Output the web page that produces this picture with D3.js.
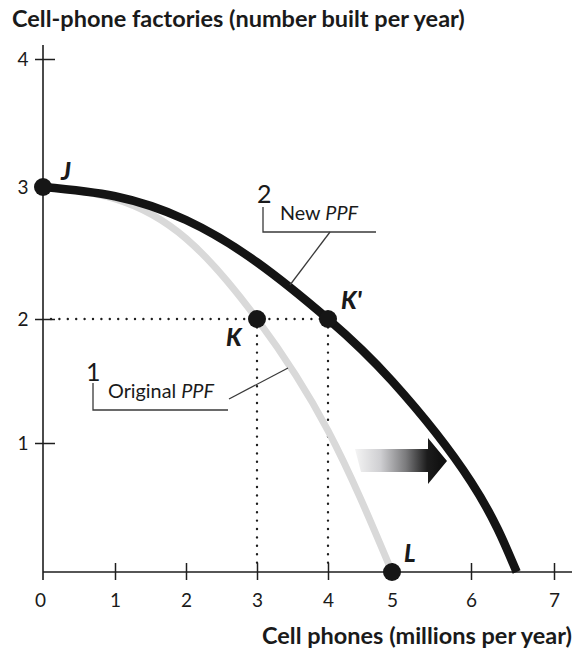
<!DOCTYPE html>
<html><head><meta charset="utf-8">
<script src="https://cdn.jsdelivr.net/npm/d3@7"></script>
<style>body{margin:0;background:#fff}svg{display:block}text{font-family:Lato,"Open Sans",sans-serif;fill:#1a1a1a}</style>
</head><body>
<svg id="c" width="574" height="651"></svg>
<script>
// ---- data ----
const xTicks = [0,1,2,3,4,5,6,7];
const yTicks = [1,2,3,4];
const originalPPF = [[0,3],[1,2.91],[2,2.61],[3,2],[4,1.1],[5,0]];
const newPPF = [[0,3],[1,2.93],[2,2.75],[3,2.43],[4,2],[5,1.5],[6,0.7],[6.55,0]];
const points = [
  {name:"J", x:0, y:3},
  {name:"K", x:3, y:2},
  {name:"K'", x:4, y:2},
  {name:"L", x:5, y:0}
];
const title = "Cell-phone factories (number built per year)";
const xTitle = "Cell phones (millions per year)";

// ---- scales (the printed axis is slightly uneven) ----
const x = d3.scaleLinear().domain([0,1,2,3,4,5,6,7]).range([43,115,186,257,328,392,471,554]);
const y = d3.scaleLinear().domain([0,1,2,3,4]).range([572,443,319,187,59]);

const svg = d3.select("#c");
const ink = "#1e1e1e";

function fit(sel, w){
  let fs = parseFloat(sel.attr("font-size"));
  const len = sel.node().getComputedTextLength();
  sel.attr("font-size", (fs*w/len).toFixed(2));
}

// title
const t = svg.append("text").attr("x",12).attr("y",27).attr("font-size",18).attr("font-weight",700).text(title);
fit(t, 453);
const xt = svg.append("text").attr("x",572).attr("y",644).attr("text-anchor","end").attr("font-size",18).attr("font-weight",700).text(xTitle);
fit(xt, 310);

// arrow with gradient
const defs = svg.append("defs");
const g = defs.append("linearGradient").attr("id","ag").attr("gradientUnits","userSpaceOnUse")
  .attr("x1",355).attr("x2",440).attr("y1",0).attr("y2",0);
[[0,"#f4f4f4"],[0.3,"#cfcfd2"],[0.6,"#7a7a7c"],[0.85,"#1c1c1c"],[1,"#111"]].forEach(s=>g.append("stop").attr("offset",s[0]).attr("stop-color",s[1]));
svg.append("path").attr("d","M355,449 L428,449 L428,438 L447,461 L428,484 L428,472 L361,472 Z").attr("fill","url(#ag)");

// axes
const axG = svg.append("g");
axG.append("line").attr("x1",x(0)).attr("x2",x(0)).attr("y1",45).attr("y2",580).attr("stroke",ink).attr("stroke-width",1.6);
axG.append("line").attr("x1",x(0)).attr("x2",572).attr("y1",y(0)).attr("y2",y(0)).attr("stroke",ink).attr("stroke-width",1.6);

const xa = svg.append("g").attr("transform",`translate(0,${y(0)})`)
  .call(d3.axisBottom(x).tickValues(xTicks).tickSize(8).tickPadding(0).tickFormat(d3.format("d")));
xa.select(".domain").remove();
xa.selectAll(".tick line").attr("y1",-9).attr("y2",8).attr("stroke",ink).attr("stroke-width",1.5);
xa.selectAll(".tick").filter(d=>d===0).select("line").remove();
xa.selectAll(".tick text").attr("y",22).attr("dy","0.71em").attr("font-size",19).attr("font-family","Lato,sans-serif").attr("fill","#1a1a1a");
xa.selectAll(".tick").filter(d=>d===0).select("text").attr("x",-3);

const ya = svg.append("g").attr("transform",`translate(${x(0)},0)`)
  .call(d3.axisLeft(y).tickValues(yTicks).tickSize(8).tickPadding(0).tickFormat(d3.format("d")));
ya.select(".domain").remove();
ya.selectAll(".tick line").attr("x1",-8).attr("x2",12).attr("stroke",ink).attr("stroke-width",1.5);
ya.selectAll(".tick text").attr("x",-20).attr("text-anchor","middle").attr("dy","0.34em").attr("font-size",19).attr("font-family","Lato,sans-serif").attr("fill","#1a1a1a");
ya.selectAll(".tick").filter(d=>d===3).select("line").remove();

// dotted guides
const dot = {stroke:ink,"stroke-width":2.4,"stroke-linecap":"round","stroke-dasharray":"0,8.4"};
function dl(x1,y1,x2,y2){const l=svg.append("line").attr("x1",x1).attr("y1",y1).attr("x2",x2).attr("y2",y2);Object.entries(dot).forEach(([k,v])=>l.attr(k,v));}
dl(x(0)+8,y(2),x(4),y(2));
dl(x(3),y(2),x(3),y(0)-4);
dl(x(4),y(2),x(4),y(0)-4);

// curves
const line = d3.line().x(d=>x(d[0])).y(d=>y(d[1])).curve(d3.curveNatural);
svg.append("path").datum(originalPPF).attr("d",line).attr("fill","none").attr("stroke","#d9d9d9").attr("stroke-width",7);
svg.append("path").datum(newPPF).attr("d",line).attr("fill","none").attr("stroke","#141414").attr("stroke-width",8.5).attr("stroke-linecap","butt");

// annotations
const ann = svg.append("g").attr("stroke","#3a3a3a").attr("stroke-width",1.3).attr("fill","none");
ann.append("path").attr("d","M263,207 L263,232 L376,232");
ann.append("path").attr("d","M330,232 L290,285");
ann.append("path").attr("d","M93,383 L93,410 L228,410");
ann.append("path").attr("d","M229,399 L288,368");

svg.append("text").attr("x",257).attr("y",203).attr("font-size",25).attr("font-weight",400).attr("fill","#2a2a2a").text("2");
const np = svg.append("text").attr("x",280).attr("y",220).attr("font-size",18);
np.append("tspan").text("New ");
np.append("tspan").attr("font-style","italic").text("PPF");
fit(np, 78);
svg.append("text").attr("x",86).attr("y",381).attr("font-size",25).attr("font-weight",400).attr("fill","#2a2a2a").text("1");
const op = svg.append("text").attr("x",108).attr("y",398).attr("font-size",18);
op.append("tspan").text("Original ");
op.append("tspan").attr("font-style","italic").text("PPF");
fit(op, 106);

// points
svg.selectAll("circle.pt").data(points).join("circle").attr("class","pt")
  .attr("cx",d=>x(d.x)).attr("cy",d=>y(d.y)).attr("r",9).attr("fill","#161616");

const labelOff = {"J":[18,-7],"K":[-31,27],"K'":[13,-10],"L":[12,-10]};
svg.selectAll("text.pl").data(points).join("text").attr("class","pl")
  .attr("x",d=>x(d.x)+labelOff[d.name][0]).attr("y",d=>y(d.y)+labelOff[d.name][1])
  .attr("font-size",24).attr("font-weight",900).attr("font-style","italic").text(d=>d.name);
</script>
</body></html>
